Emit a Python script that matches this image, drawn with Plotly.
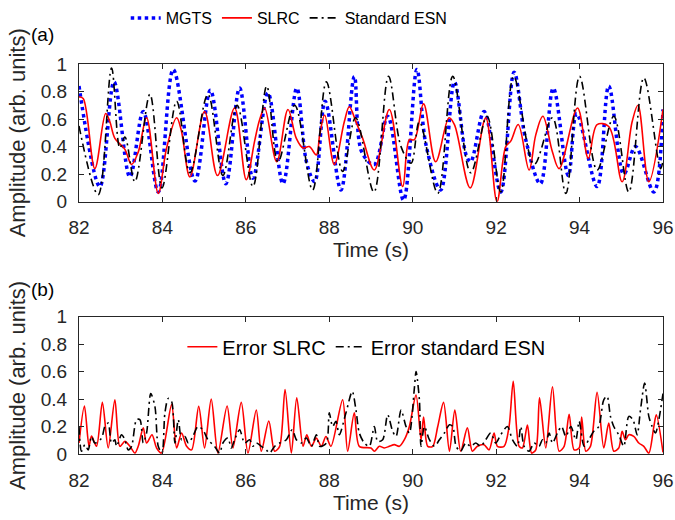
import plotly.graph_objects as go
from plotly.subplots import make_subplots

# ---- panel (a): time-series (times in s, amplitudes in arb. units) ----
mgts_t = [82.00, 82.50, 82.84, 83.22, 83.54, 83.90, 84.26, 84.78, 85.15, 85.52,
          85.85, 86.17, 86.53, 86.89, 87.22, 87.46, 87.65, 87.90, 88.28, 88.60,
          88.78, 89.08, 89.40, 89.78, 90.10, 90.32, 90.67, 91.00, 91.28, 91.39,
          91.71, 92.11, 92.43, 92.71, 93.06, 93.37, 93.73, 93.93, 94.42, 94.70,
          95.06, 95.34, 95.78, 96.00]
mgts_v = [0.84, 0.11, 0.87, 0.18, 0.655, 0.07, 0.96, 0.15, 0.81, 0.13,
          0.825, 0.17, 0.79, 0.13, 0.825, 0.28, 0.145, 0.73, 0.085, 0.91,
          0.36, 0.27, 0.62, 0.01, 0.96, 0.41, 0.085, 0.87, 0.34, 0.29,
          0.655, 0.07, 0.94, 0.45, 0.13, 0.825, 0.19, 0.64, 0.11, 0.84,
          0.20, 0.40, 0.07, 0.67]

slrc_t = [82.00, 82.10, 82.38, 82.64, 82.74, 82.86, 83.10, 83.26, 83.42, 83.62,
          83.90, 84.10, 84.34, 84.45, 84.66, 85.01, 85.32, 85.73, 86.01, 86.21,
          86.33, 86.45, 86.74, 87.01, 87.21, 87.37, 87.52, 87.69, 87.77, 87.89,
          88.12, 88.36, 88.48, 88.64, 88.80, 89.08, 89.44, 89.76, 89.92, 90.04,
          90.26, 90.55, 90.87, 91.00, 91.38, 91.75, 92.02, 92.23, 92.35, 92.53,
          92.79, 92.95, 93.12, 93.35, 93.51, 93.95, 94.21, 94.42, 94.70, 95.02,
          95.26, 95.40, 95.66, 96.00]
slrc_v = [0.76, 0.75, 0.24, 0.64, 0.58, 0.46, 0.38, 0.27, 0.36, 0.61,
          0.06, 0.39, 0.61, 0.52, 0.18, 0.655, 0.19, 0.68, 0.16, 0.44,
          0.595, 0.68, 0.29, 0.67, 0.46, 0.39, 0.40, 0.34, 0.485, 0.63,
          0.27, 0.58, 0.69, 0.58, 0.46, 0.23, 0.67, 0.11, 0.45, 0.45,
          0.71, 0.29, 0.61, 0.56, 0.10, 0.61, 0.00, 0.40, 0.44, 0.56,
          0.23, 0.485, 0.62, 0.36, 0.24, 0.68, 0.315, 0.56, 0.546, 0.145,
          0.58, 0.70, 0.145, 0.67]

esn_t = [82.00, 82.46, 82.78, 82.98, 83.10, 83.34, 83.70, 83.99, 84.34, 84.66,
         85.09, 85.45, 85.79, 86.17, 86.50, 86.77, 87.17, 87.60, 87.93, 88.32,
         88.63, 89.07, 89.42, 89.72, 89.96, 90.16, 90.60, 90.96, 91.39, 91.78,
         92.11, 92.42, 92.91, 93.35, 93.67, 94.00, 94.42, 94.82, 95.18, 95.54,
         95.94, 96.00]
esn_v = [0.55, 0.05, 0.97, 0.39, 0.47, 0.145, 0.78, 0.10, 0.73, 0.21,
         0.78, 0.19, 0.70, 0.11, 0.84, 0.29, 0.70, 0.085, 0.87, 0.22,
         0.61, 0.07, 0.91, 0.40, 0.28, 0.58, 0.06, 0.91, 0.21, 0.62,
         0.07, 0.91, 0.27, 0.61, 0.06, 0.91, 0.23, 0.62, 0.07, 0.90,
         0.24, 0.30]

# ---- panel (b): absolute errors ----
err_slrc_t = [82.00, 82.13, 82.24, 82.30, 82.42, 82.56, 82.70, 82.86, 82.98, 83.10,
              83.22, 83.34, 83.42, 83.54, 83.62, 83.75, 83.86, 83.98, 84.22, 84.34,
              84.46, 84.58, 84.70, 84.87, 85.01, 85.17, 85.33, 85.55, 85.69, 85.89,
              86.05, 86.25, 86.37, 86.55, 86.69, 86.81, 86.94, 87.09, 87.22, 87.37,
              87.46, 87.57, 87.69, 87.81, 87.92, 88.04, 88.32, 88.44, 88.60, 88.72,
              89.00, 89.08, 89.20, 89.32, 89.44, 89.56, 89.68, 89.80, 89.92, 90.08,
              90.20, 90.26, 90.36, 90.48, 90.60, 90.74, 90.88, 91.01, 91.15, 91.31,
              91.43, 91.55, 91.71, 91.83, 91.95, 92.03, 92.19, 92.31, 92.41, 92.55,
              92.63, 92.75, 92.85, 92.95, 93.04, 93.19, 93.35, 93.51, 93.63, 93.75,
              93.87, 93.99, 94.05, 94.15, 94.26, 94.42, 94.58, 94.70, 94.82, 94.94,
              95.02, 95.10, 95.18, 95.30, 95.42, 95.54, 95.66, 95.78, 95.84, 96.00]
err_slrc_v = [0.08, 0.35, 0.056, 0.13, 0.056, 0.376, 0.044, 0.395, 0.056, 0.092,
              0.056, 0.007, 0.056, 0.19, 0.08, 0.14, 0.044, 0.007, 0.36, 0.044,
              0.153, 0.056, 0.03, 0.347, 0.044, 0.40, 0.007, 0.35, 0.044, 0.376,
              0.007, 0.32, 0.02, 0.24, 0.02, 0.056, 0.47, 0.007, 0.41, 0.056,
              0.14, 0.056, 0.116, 0.056, 0.128, 0.056, 0.395, 0.02, 0.30, 0.056,
              0.044, 0.02, 0.056, 0.044, 0.056, 0.068, 0.056, 0.104, 0.20, 0.43,
              0.104, 0.27, 0.056, 0.056, 0.20, 0.376, 0.02, 0.32, 0.02, 0.19,
              0.02, 0.056, 0.068, 0.03, 0.153, 0.056, 0.056, 0.20, 0.53, 0.056,
              0.044, 0.21, 0.007, 0.03, 0.41, 0.044, 0.49, 0.02, 0.056, 0.29,
              0.03, 0.044, 0.27, 0.02, 0.056, 0.45, 0.044, 0.225, 0.02, 0.044,
              0.165, 0.104, 0.14, 0.128, 0.08, 0.056, 0.007, 0.20, 0.286, 0.012]

err_esn_t = [82.00, 82.06, 82.14, 82.22, 82.30, 82.38, 82.54, 82.62, 82.70, 82.78,
             82.86, 82.90, 83.02, 83.10, 83.18, 83.26, 83.38, 83.46, 83.54, 83.62,
             83.72, 83.82, 83.90, 83.99, 84.06, 84.14, 84.22, 84.30, 84.38, 84.46,
             84.54, 84.62, 84.73, 84.85, 84.97, 85.09, 85.25, 85.37, 85.45, 85.57,
             85.65, 85.73, 85.85, 85.97, 86.09, 86.17, 86.25, 86.37, 86.49, 86.57,
             86.69, 86.81, 86.97, 87.11, 87.21, 87.33, 87.45, 87.57, 87.69, 87.77,
             87.93, 88.00, 88.08, 88.16, 88.24, 88.40, 88.55, 88.64, 88.72, 88.84,
             88.96, 89.08, 89.16, 89.28, 89.40, 89.52, 89.60, 89.72, 89.84, 89.92,
             90.04, 90.08, 90.16, 90.20, 90.28, 90.40, 90.52, 90.64, 90.76, 90.88,
             90.96, 91.04, 91.15, 91.27, 91.39, 91.51, 91.63, 91.75, 91.87, 91.99,
             92.11, 92.27, 92.39, 92.51, 92.59, 92.67, 92.79, 92.91, 93.03, 93.11,
             93.19, 93.27, 93.35, 93.47, 93.57, 93.67, 93.79, 93.91, 93.99, 94.11,
             94.22, 94.34, 94.46, 94.58, 94.66, 94.74, 94.82, 94.94, 95.06, 95.18,
             95.28, 95.38, 95.46, 95.56, 95.66, 95.74, 95.82, 95.90, 96.00]
err_esn_v = [0.20, 0.02, 0.068, 0.03, 0.128, 0.08, 0.116, 0.20, 0.225, 0.08,
             0.104, 0.056, 0.14, 0.104, 0.03, 0.056, 0.25, 0.25, 0.08, 0.153,
             0.44, 0.347, 0.056, 0.007, 0.30, 0.405, 0.383, 0.08, 0.25, 0.104,
             0.128, 0.08, 0.128, 0.20, 0.177, 0.104, 0.056, 0.007, 0.08, 0.116,
             0.044, 0.104, 0.177, 0.08, 0.104, 0.056, 0.08, 0.056, 0.03, 0.007,
             0.056, 0.08, 0.104, 0.177, 0.104, 0.08, 0.116, 0.056, 0.14, 0.056,
             0.08, 0.30, 0.20, 0.238, 0.14, 0.30, 0.456, 0.32, 0.153, 0.08,
             0.056, 0.20, 0.092, 0.104, 0.286, 0.165, 0.128, 0.32, 0.20, 0.153,
             0.48, 0.60, 0.395, 0.056, 0.20, 0.104, 0.056, 0.104, 0.153, 0.213,
             0.20, 0.056, 0.02, 0.08, 0.056, 0.08, 0.056, 0.104, 0.153, 0.08,
             0.14, 0.20, 0.104, 0.056, 0.20, 0.056, 0.02, 0.08, 0.056, 0.104,
             0.08, 0.153, 0.08, 0.153, 0.20, 0.128, 0.20, 0.104, 0.238, 0.056,
             0.104, 0.165, 0.20, 0.395, 0.42, 0.274, 0.20, 0.14, 0.056, 0.274,
             0.25, 0.14, 0.32, 0.516, 0.274, 0.20, 0.153, 0.25, 0.44]

x_ticks = [82, 84, 86, 88, 90, 92, 94, 96]
y_ticks = [0, 0.2, 0.4, 0.6, 0.8, 1]
y_tick_text = ["0", "0.2", "0.4", "0.6", "0.8", "1"]

FONT = "Liberation Sans, Arial, Helvetica, sans-serif"
AX = "#262626"

fig = make_subplots(rows=2, cols=1, vertical_spacing=0.295)

fig.add_trace(go.Scatter(x=mgts_t, y=mgts_v, name="MGTS", mode="lines",
                         line=dict(color="#0000ff", width=3.5, dash="dot", shape="spline"),
                         legend="legend"), row=1, col=1)
fig.add_trace(go.Scatter(x=slrc_t, y=slrc_v, name="SLRC", mode="lines",
                         line=dict(color="#ff0000", width=1.6, shape="spline"),
                         legend="legend"), row=1, col=1)
fig.add_trace(go.Scatter(x=esn_t, y=esn_v, name="Standard ESN", mode="lines",
                         line=dict(color="#000000", width=1.6, dash="8px,4px,2px,4px", shape="spline"),
                         legend="legend"), row=1, col=1)

fig.add_trace(go.Scatter(x=err_slrc_t, y=err_slrc_v, name="Error SLRC", mode="lines",
                         line=dict(color="#ff0000", width=1.6, shape="spline", smoothing=0.8),
                         legend="legend2"), row=2, col=1)
fig.add_trace(go.Scatter(x=err_esn_t, y=err_esn_v, name="Error standard ESN", mode="lines",
                         line=dict(color="#000000", width=1.6, dash="8px,4px,2px,4px",
                                   shape="spline", smoothing=0.8),
                         legend="legend2"), row=2, col=1)

axis_common = dict(showline=True, linecolor=AX, linewidth=1, mirror="ticks",
                   ticks="inside", ticklen=5, tickcolor=AX, showgrid=False,
                   zeroline=False, ticklabeloverflow="allow",
                   tickfont=dict(size=19, color="#262626", family=FONT))

for r in (1, 2):
    fig.update_xaxes(range=[82, 96], tickvals=x_ticks, ticklabelstandoff=9,
                     title=dict(text="Time (s)", font=dict(size=21, color="#262626", family=FONT),
                                standoff=4),
                     row=r, col=1, **axis_common)
    fig.update_yaxes(range=[0, 1], tickvals=y_ticks, ticktext=y_tick_text, ticklabelstandoff=7,
                     title=dict(text="Amplitude (arb. units)",
                                font=dict(size=22, color="#262626", family=FONT), standoff=9),
                     row=r, col=1, **axis_common)

fig.update_layout(
    width=675, height=520,
    margin=dict(l=79, r=12, t=64, b=66, autoexpand=False),
    paper_bgcolor="white", plot_bgcolor="white",
    font=dict(family=FONT, color="#000000"),
    legend=dict(orientation="h", x=0.08, y=1.118, xanchor="left", yanchor="middle",
                bgcolor="rgba(0,0,0,0)", font=dict(size=16, family=FONT, color="#000000"),
                itemwidth=30, tracegroupgap=0),
    legend2=dict(orientation="h", x=0.177, y=0.275, xanchor="left", yanchor="middle",
                 bgcolor="rgba(0,0,0,0)", font=dict(size=20, family=FONT, color="#000000"),
                 itemwidth=30),
    annotations=[
        dict(text="(a)", x=-0.063, y=1.075, xref="paper", yref="paper", showarrow=False,
             xanchor="center", yanchor="middle",
             font=dict(size=19, family=FONT, color="#000000")),
        dict(text="(b)", x=-0.063, y=0.421, xref="paper", yref="paper", showarrow=False,
             xanchor="center", yanchor="middle",
             font=dict(size=19, family=FONT, color="#000000")),
    ],
)
fig.update_yaxes(domain=[0.647, 1.0], row=1, col=1)
fig.update_yaxes(domain=[0.0, 0.352], row=2, col=1)

# remove the browser's default 8 px page margin so the 675x520 figure fills the window
fig.write_html("out.html",
               config={"displayModeBar": False},
               post_script="document.body.style.margin='0';document.body.style.overflow='hidden';")
